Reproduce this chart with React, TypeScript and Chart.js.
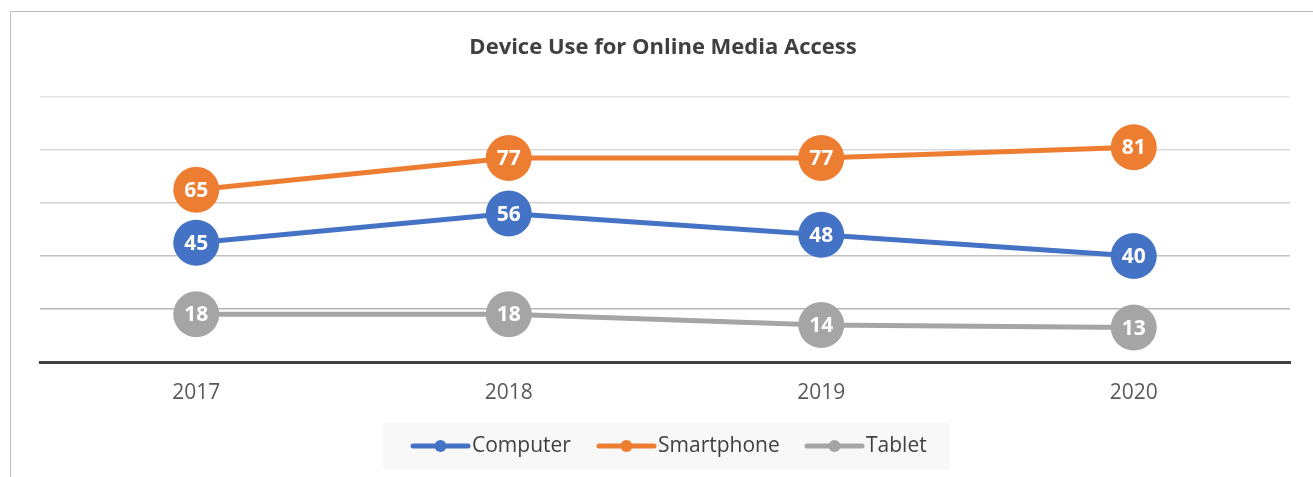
import React, { useEffect, useRef } from "react";
import { Chart, registerables } from "chart.js";

Chart.register(...registerables);

const TITLE = "Device Use for Online Media Access";
const YEARS = ["2017", "2018", "2019", "2020"];
const COMPUTER = [45, 56, 48, 40];
const SMARTPHONE = [65, 77, 77, 81];
const TABLET = [18, 18, 14, 13];
const SERIES_NAMES = ["Computer", "Smartphone", "Tablet"];
const COLORS = ["#4472C4", "#ED7D31", "#A5A5A5"];
const Y_MIN = 0;
const Y_MAX = 100;
const Y_STEP = 20;

const FONT = "'Open Sans', 'DejaVu Sans', sans-serif";

const GRID_COLORS: Record<number, string> = {
  100: "#e3e3e3",
  80: "#d9d9d9",
  60: "#cfcfcf",
  40: "#c2c2c2",
  20: "#b5b5b5",
  0: "rgba(0,0,0,0)",
};

const decorPlugin = {
  id: "decor",
  beforeDraw(chart: any) {
    const ctx = chart.ctx;
    ctx.save();
    ctx.fillStyle = "#ffffff";
    ctx.fillRect(0, 0, chart.width, chart.height);
    ctx.fillStyle = "#bfbfbf";
    ctx.fillRect(10, 11, 1, chart.height);
    ctx.fillRect(10, 11, chart.width, 1);
    ctx.restore();
  },
  afterDatasetsDraw(chart: any) {
    const ctx = chart.ctx;
    ctx.save();
    ctx.fillStyle = "#ffffff";
    ctx.font = `bold 21px ${FONT}`;
    ctx.textAlign = "center";
    ctx.textBaseline = "middle";
    chart.data.datasets.forEach((ds: any, i: number) => {
      const meta = chart.getDatasetMeta(i);
      meta.data.forEach((pt: any, j: number) => {
        ctx.fillText(String(ds.data[j]), pt.x, pt.y + 1);
      });
    });
    ctx.restore();
  },
  afterDraw(chart: any) {
    const ctx = chart.ctx;
    const area = chart.chartArea;
    ctx.save();
    // title
    ctx.fillStyle = "#404040";
    ctx.font = `bold 22px ${FONT}`;
    ctx.textAlign = "center";
    ctx.textBaseline = "middle";
    ctx.fillText(TITLE, (area.left + area.right) / 2 - 2, 48);
    // legend box
    ctx.fillStyle = "#f8f8f8";
    ctx.fillRect(383, 423, 567, 47);
    const starts = [413, 599, 807];
    const cy = 446;
    ctx.font = `21px ${FONT}`;
    ctx.textAlign = "left";
    chart.data.datasets.forEach((ds: any, i: number) => {
      const x0 = starts[i];
      ctx.strokeStyle = ds.borderColor;
      ctx.lineWidth = 5;
      ctx.lineCap = "round";
      ctx.beginPath();
      ctx.moveTo(x0, cy);
      ctx.lineTo(x0 + 55, cy);
      ctx.stroke();
      ctx.fillStyle = ds.borderColor;
      ctx.beginPath();
      ctx.arc(x0 + 27.5, cy, 6, 0, Math.PI * 2);
      ctx.fill();
      ctx.fillStyle = "#404040";
      ctx.fillText(ds.label, x0 + 59, cy);
    });
    ctx.restore();
  },
};

export default function App() {
  const ref = useRef<HTMLCanvasElement | null>(null);
  useEffect(() => {
    if (!ref.current) return;
    const mk = (label: string, data: number[], color: string) => ({
      label,
      data,
      borderColor: color,
      backgroundColor: color,
      pointBackgroundColor: color,
      pointBorderWidth: 0,
      pointRadius: 23,
      pointHoverRadius: 23,
      borderWidth: 5,
      tension: 0,
      clip: false as any,
    });
    const chart = new Chart(ref.current, {
      type: "line",
      data: {
        labels: YEARS,
        datasets: [
          mk(SERIES_NAMES[0], COMPUTER, COLORS[0]),
          mk(SERIES_NAMES[1], SMARTPHONE, COLORS[1]),
          mk(SERIES_NAMES[2], TABLET, COLORS[2]),
        ],
      },
      options: {
        animation: false,
        responsive: false,
        maintainAspectRatio: false,
        layout: { padding: { left: 40, right: 18, top: 97, bottom: 0 } },
        plugins: {
          legend: { display: false },
          title: { display: false },
          tooltip: { enabled: false },
        },
        scales: {
          x: {
            offset: true,
            grid: { display: false, drawTicks: false },
            border: { display: true, color: "#404040", width: 3 },
            ticks: {
              color: "#595959",
              font: { family: FONT, size: 21 },
              padding: 18,
            },
            afterFit: (s: any) => {
              s.height = 115;
            },
          },
          y: {
            min: Y_MIN,
            max: Y_MAX,
            ticks: { stepSize: Y_STEP, display: false },
            border: { display: false },
            grid: {
              drawTicks: false,
              lineWidth: 1.5,
              color: (c: any) => GRID_COLORS[c.tick?.value] ?? "#d9d9d9",
            },
            afterFit: (s: any) => {
              s.width = 0;
            },
          },
        },
      },
      plugins: [decorPlugin],
    });
    return () => chart.destroy();
  }, []);
  return (
    <canvas
      ref={ref}
      width={1313}
      height={477}
      style={{ position: "fixed", left: 0, top: 0, width: 1313, height: 477 }}
    />
  );
}
